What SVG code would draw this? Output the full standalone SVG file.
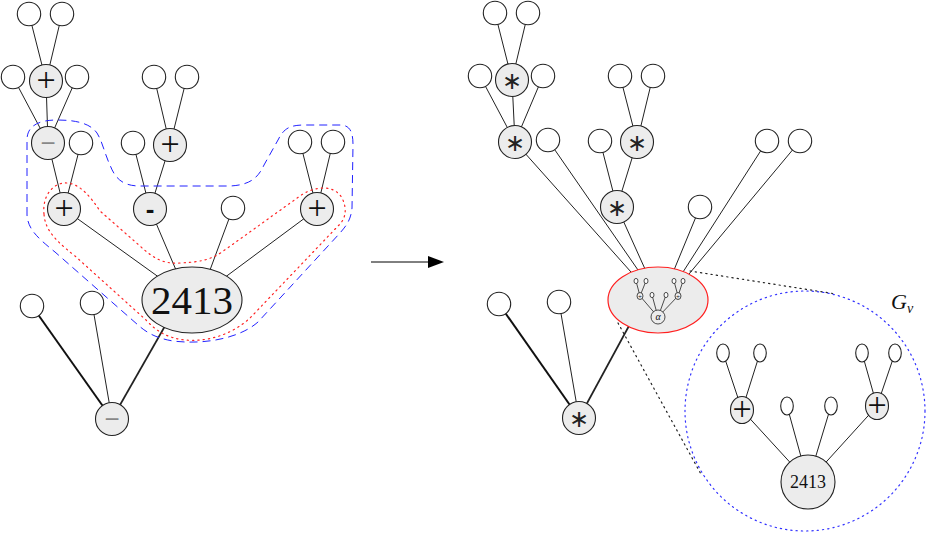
<svg xmlns="http://www.w3.org/2000/svg" width="928" height="536" viewBox="0 0 928 536">
<style>
.e{stroke:#222;stroke-width:1;fill:none}
.tk{stroke:#111;stroke-width:2;fill:none}
.n{fill:#ececec;stroke:#222;stroke-width:1.1}
.l{fill:#fff;stroke:#222;stroke-width:1.1}
.pl{font-family:"Liberation Serif",serif;font-size:34px;text-anchor:middle;fill:#111}
.st{font-family:"DejaVu Sans",sans-serif;font-size:24px;text-anchor:middle;fill:#222}
.gm{font-family:"Liberation Sans",sans-serif;font-size:26px;text-anchor:middle;fill:#888}
.dm{font-family:"Liberation Sans",sans-serif;font-weight:bold;font-size:26px;text-anchor:middle;fill:#111}
.dot{fill:none;stroke-width:1.2;stroke-dasharray:1.3 4;stroke-linecap:round}
</style>
<defs>
<marker id="ah" viewBox="0 0 16 12" refX="0" refY="6" markerWidth="16" markerHeight="12" markerUnits="userSpaceOnUse" orient="auto">
<path d="M0,0 L16,6 L0,12 Z" fill="#000"/>
</marker>
</defs>

<g id="connectors">
<!-- left tree -->
<line class="e" x1="29" y1="14" x2="46" y2="81"/>
<line class="e" x1="62" y1="14" x2="46" y2="81"/>
<line class="e" x1="13" y1="77" x2="48" y2="143"/>
<line class="e" x1="77" y1="77" x2="48" y2="143"/>
<line class="e" x1="46" y1="81" x2="48" y2="143"/>
<line class="e" x1="48" y1="143" x2="64" y2="209"/>
<line class="e" x1="81" y1="143" x2="64" y2="209"/>
<line class="e" x1="154" y1="77" x2="170" y2="145"/>
<line class="e" x1="187" y1="77" x2="170" y2="145"/>
<line class="e" x1="133" y1="143" x2="150" y2="209"/>
<line class="e" x1="170" y1="145" x2="150" y2="209"/>
<line class="e" x1="300" y1="142" x2="317" y2="209"/>
<line class="e" x1="333" y1="142" x2="317" y2="209"/>
<line class="e" x1="64" y1="209" x2="160" y2="278"/>
<line class="e" x1="150" y1="209" x2="176" y2="270"/>
<line class="e" x1="233" y1="208" x2="210" y2="270"/>
<line class="e" x1="317" y1="209" x2="224" y2="278"/>
<line class="tk" x1="32" y1="306" x2="112" y2="419"/>
<line class="e" x1="92" y1="303" x2="112" y2="419"/>
<line class="e" x1="165" y1="326" x2="112" y2="419" style="stroke-width:1.7"/>
<!-- arrow -->
<line x1="371" y1="262" x2="428" y2="262" stroke="#000" stroke-width="1" marker-end="url(#ah)"/>
<!-- right tree -->
<line class="e" x1="495" y1="13" x2="512" y2="80"/>
<line class="e" x1="528" y1="13" x2="512" y2="80"/>
<line class="e" x1="480" y1="76" x2="515" y2="142"/>
<line class="e" x1="543" y1="76" x2="515" y2="142"/>
<line class="e" x1="512" y1="80" x2="515" y2="142"/>
<line class="e" x1="620" y1="76" x2="637" y2="142"/>
<line class="e" x1="653" y1="76" x2="637" y2="142"/>
<line class="e" x1="600" y1="141" x2="617" y2="207"/>
<line class="e" x1="637" y1="142" x2="617" y2="207"/>
<line class="e" x1="515" y1="142" x2="631" y2="272"/>
<line class="e" x1="548" y1="140" x2="638" y2="270"/>
<line class="e" x1="617" y1="207" x2="645" y2="269"/>
<line class="e" x1="700" y1="207" x2="674" y2="270"/>
<line class="e" x1="767" y1="141" x2="683" y2="272"/>
<line class="e" x1="800" y1="141" x2="689" y2="274"/>
<line class="tk" x1="499" y1="304" x2="579" y2="418"/>
<line class="e" x1="559" y1="302" x2="579" y2="418"/>
<line class="e" x1="630" y1="324" x2="579" y2="418" style="stroke-width:1.7"/>
<!-- zoom lines -->
<line class="dot" stroke="#222" x1="690" y1="271" x2="836" y2="294"/>
<line class="dot" stroke="#222" x1="618" y1="323" x2="702" y2="476"/>
<!-- G_v inner -->
<line class="e" x1="723" y1="353" x2="742" y2="410"/>
<line class="e" x1="760" y1="353" x2="742" y2="410"/>
<line class="e" x1="742" y1="410" x2="808" y2="482"/>
<line class="e" x1="787" y1="406" x2="808" y2="482"/>
<line class="e" x1="831" y1="406" x2="808" y2="482"/>
<line class="e" x1="862" y1="353" x2="877" y2="406"/>
<line class="e" x1="895" y1="353" x2="877" y2="406"/>
<line class="e" x1="877" y1="406" x2="808" y2="482"/>
</g>

<g id="groupings">
<path d="M27,215 L27,140 C27,125 40,120 57,120 C75,120 90,123 97,133 C103,143 105,155 110,165 C115,178 122,186 140,186 L230,186 C250,185 258,178 264,165 L278,140 C284,128 290,125 305,125 L340,125 C350,125 353,132 353,145 L352,208 C351,220 346,226 340,233 L258,322 C240,338 205,345 173,341 C155,338 146,332 138,325 L55,252 C35,236 28,228 27,215 Z" fill="none" stroke="#2222ff" stroke-width="1" stroke-dasharray="8 5"/>
<path d="M44,214 C42,195 54,182 67,183 C80,184 90,196 100,211 L140,246 C155,260 165,264 180,263 C200,262 210,260 222,252 L300,196 C314,186 334,184 342,198 C348,210 345,220 338,226 L252,316 C232,336 205,342 185,340 C168,338 157,332 146,320 L75,256 C52,238 45,228 44,214 Z" fill="none" stroke="#ff2222" stroke-width="1.2" stroke-dasharray="1.3 4" stroke-linecap="round"/>
<circle class="dot" stroke="#3333ff" cx="805" cy="411" r="120"/>
</g>

<!-- left tree nodes -->
<g id="L1"><circle class="l" cx="29" cy="14" r="11.7"/></g>
<g id="L2"><circle class="l" cx="62" cy="14" r="11.7"/></g>
<g id="L3"><circle class="l" cx="13" cy="77" r="11.7"/></g>
<g id="L4"><circle class="l" cx="77" cy="77" r="11.7"/></g>
<g id="Lp1"><circle class="n" cx="46" cy="81" r="16.5"/><text class="pl" x="46" y="91">+</text></g>
<g id="Lm1"><circle class="n" cx="48" cy="143" r="16.5"/><text class="gm" x="48" y="152">−</text></g>
<g id="L5"><circle class="l" cx="81" cy="143" r="11.7"/></g>
<g id="Lp2"><circle class="n" cx="64" cy="209" r="16.5"/><text class="pl" x="64" y="219">+</text></g>
<g id="L6"><circle class="l" cx="154" cy="77" r="11.7"/></g>
<g id="L7"><circle class="l" cx="187" cy="77" r="11.7"/></g>
<g id="Lp3"><circle class="n" cx="170" cy="145" r="16.5"/><text class="pl" x="170" y="155">+</text></g>
<g id="L8"><circle class="l" cx="133" cy="143" r="11.7"/></g>
<g id="Lm2"><circle class="n" cx="150" cy="209" r="16.5"/><text class="dm" x="150" y="218">-</text></g>
<g id="L9"><circle class="l" cx="233" cy="208" r="11.7"/></g>
<g id="L10"><circle class="l" cx="300" cy="142" r="11.7"/></g>
<g id="L11"><circle class="l" cx="333" cy="142" r="11.7"/></g>
<g id="Lp4"><circle class="n" cx="317" cy="209" r="16.5"/><text class="pl" x="317" y="219">+</text></g>
<g id="Lroot"><ellipse class="n" cx="192" cy="300" rx="50" ry="33"/><text x="192" y="314" font-family="Liberation Serif, serif" font-size="41" text-anchor="middle" fill="#111">2413</text></g>
<g id="L12"><circle class="l" cx="32" cy="306" r="11.7"/></g>
<g id="L13"><circle class="l" cx="92" cy="303" r="11.7"/></g>
<g id="Lm3"><circle class="n" cx="112" cy="419" r="16.5"/><text class="gm" x="112" y="428">−</text></g>

<!-- right tree nodes -->
<g id="R1"><circle class="l" cx="495" cy="13" r="11.7"/></g>
<g id="R2"><circle class="l" cx="528" cy="13" r="11.7"/></g>
<g id="R3"><circle class="l" cx="480" cy="76" r="11.7"/></g>
<g id="R4"><circle class="l" cx="543" cy="76" r="11.7"/></g>
<g id="Rs1"><circle class="n" cx="512" cy="80" r="16.5"/><text class="st" x="512" y="89">∗</text></g>
<g id="Rs2"><circle class="n" cx="515" cy="142" r="16.5"/><text class="st" x="515" y="151">∗</text></g>
<g id="R5"><circle class="l" cx="548" cy="140" r="11.7"/></g>
<g id="R6"><circle class="l" cx="620" cy="76" r="11.7"/></g>
<g id="R7"><circle class="l" cx="653" cy="76" r="11.7"/></g>
<g id="Rs3"><circle class="n" cx="637" cy="142" r="16.5"/><text class="st" x="637" y="151">∗</text></g>
<g id="R8"><circle class="l" cx="600" cy="141" r="11.7"/></g>
<g id="Rs4"><circle class="n" cx="617" cy="207" r="16.5"/><text class="st" x="617" y="216">∗</text></g>
<g id="R9"><circle class="l" cx="700" cy="207" r="11.7"/></g>
<g id="R10"><circle class="l" cx="767" cy="141" r="11.7"/></g>
<g id="R11"><circle class="l" cx="800" cy="141" r="11.7"/></g>
<g id="R12"><circle class="l" cx="499" cy="304" r="11.7"/></g>
<g id="R13"><circle class="l" cx="559" cy="302" r="11.7"/></g>
<g id="Rs5"><circle class="n" cx="579" cy="418" r="16.5"/><text class="st" x="579" y="427">∗</text></g>
<g id="Rv">
<ellipse cx="658" cy="300" rx="50" ry="33" fill="#ececec" stroke="#ff2020" stroke-width="1.2"/>
<g stroke="#222" stroke-width="0.8" fill="none">
<line x1="636" y1="281" x2="640" y2="296"/><line x1="646" y1="281" x2="640" y2="296"/>
<line x1="674" y1="281" x2="678" y2="296"/><line x1="683" y1="281" x2="678" y2="296"/>
<line x1="640" y1="296" x2="658" y2="317"/><line x1="652" y1="295" x2="658" y2="317"/>
<line x1="666" y1="295" x2="658" y2="317"/><line x1="678" y1="296" x2="658" y2="317"/>
</g>
<g fill="#fff" stroke="#222" stroke-width="0.8">
<ellipse cx="636" cy="281" rx="2" ry="2.6"/><ellipse cx="646" cy="281" rx="2" ry="2.6"/>
<ellipse cx="674" cy="281" rx="2" ry="2.6"/><ellipse cx="683" cy="281" rx="2" ry="2.6"/>
<ellipse cx="652" cy="295" rx="2" ry="2.6"/><ellipse cx="666" cy="295" rx="2" ry="2.6"/>
<ellipse cx="640" cy="296" rx="3" ry="3.5" fill="#ececec"/><ellipse cx="678" cy="296" rx="3" ry="3.5" fill="#ececec"/>
<circle cx="658" cy="317" r="7" fill="#ececec"/>
</g>
<text x="640" y="298.5" font-family="Liberation Serif, serif" font-size="7" text-anchor="middle" fill="#111">+</text>
<text x="678" y="298.5" font-family="Liberation Serif, serif" font-size="7" text-anchor="middle" fill="#111">+</text>
<text x="658" y="320" font-family="Liberation Serif, serif" font-style="italic" font-size="10" text-anchor="middle" fill="#111">α</text>
</g>

<!-- G_v -->
<g id="Gv-label"><text x="891" y="309" font-family="Liberation Serif, serif" font-style="italic" font-size="22" fill="#111">G<tspan font-size="14" dy="4">v</tspan></text></g>
<g id="G1"><ellipse class="l" cx="723" cy="353" rx="6.3" ry="9"/></g>
<g id="G2"><ellipse class="l" cx="760" cy="353" rx="6.3" ry="9"/></g>
<g id="G3"><ellipse class="l" cx="862" cy="353" rx="6.3" ry="9"/></g>
<g id="G4"><ellipse class="l" cx="895" cy="353" rx="6.3" ry="9"/></g>
<g id="G5"><ellipse class="l" cx="787" cy="406" rx="6.3" ry="9"/></g>
<g id="G6"><ellipse class="l" cx="831" cy="406" rx="6.3" ry="9"/></g>
<g id="Gp1"><ellipse class="n" cx="742" cy="410" rx="11.5" ry="13.5"/><text class="pl" x="742" y="420" font-size="32">+</text></g>
<g id="Gp2"><ellipse class="n" cx="877" cy="406" rx="11.5" ry="13.5"/><text class="pl" x="877" y="416" font-size="32">+</text></g>
<g id="Groot"><circle class="n" cx="808" cy="482" r="27"/><text x="808" y="488" font-family="Liberation Serif, serif" font-size="18" text-anchor="middle" fill="#111">2413</text></g>
</svg>
